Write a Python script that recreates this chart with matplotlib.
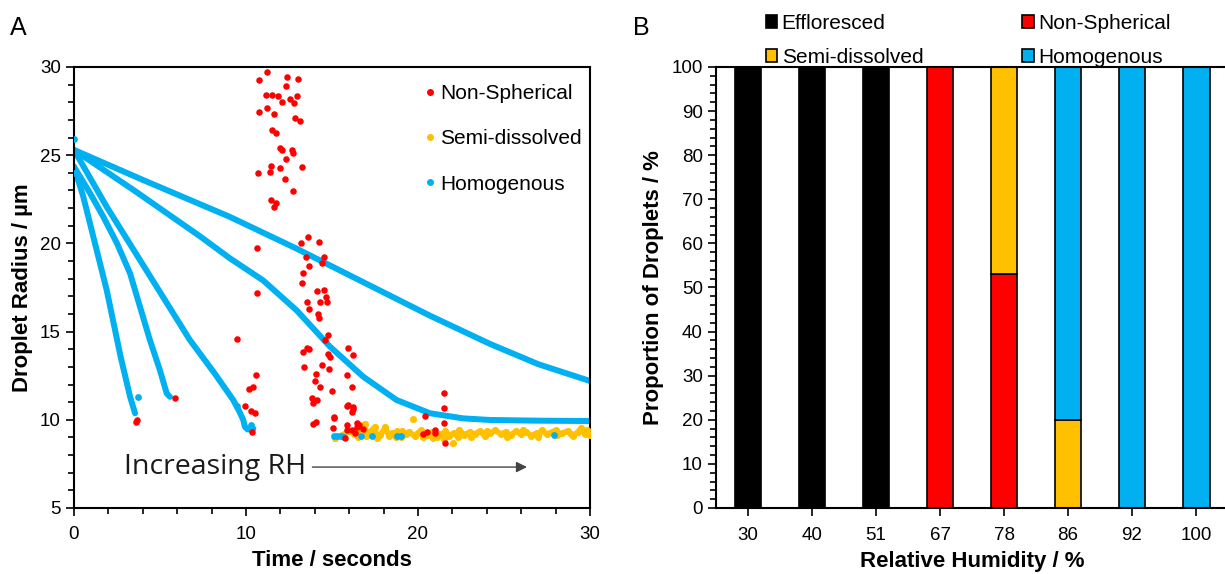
import numpy as np
import matplotlib
matplotlib.use("Agg")
import matplotlib.pyplot as plt
from matplotlib.lines import Line2D
from matplotlib.patches import Patch
from matplotlib.ticker import MultipleLocator

plt.rcParams["font.family"] = ["Liberation Sans", "DejaVu Sans"]

BLUE = "#00B0F0"
RED = "#FF0000"
YELLOW = "#FFC000"

# ---- Panel A: droplet radius vs time ----
c1_t = [0, 0.54, 1.9, 2.71, 3.26, 3.55]
c1_r = [24.35, 22.65, 17.36, 13.58, 11.31, 10.37]

c2_t = [0, 0.9, 1.71, 2.5, 3.26, 4.42, 5.0, 5.39, 5.58]
c2_r = [24.35, 22.9, 21.5, 20.0, 18.3, 14.5, 12.8, 11.5, 11.3]

c3_t = [0, 1.9, 4.32, 6.74, 8.2, 9.26, 9.6, 9.84, 9.94, 10.1, 10.43]
c3_r = [25.3, 22.08, 18.3, 14.52, 12.6, 11.12, 10.5, 9.99, 9.6, 9.45, 9.5]

c4_t = [0, 3.5, 7.33, 9.07, 11.0, 12.95, 14.88, 16.82, 18.76, 20.7, 22.63, 24.19, 27, 30]
c4_r = [25.3, 23.0, 20.4, 19.15, 17.9, 16.2, 14.15, 12.44, 11.12, 10.37, 10.08, 9.99, 9.95, 9.93]

c5_t = [0, 4, 9.07, 12.95, 16.82, 20.7, 24.19, 27, 30]
c5_r = [25.3, 23.6, 21.5, 19.7, 17.8, 15.9, 14.3, 13.15, 12.2]

blue_t = [0, 0, 3.7, 9.5, 10.3, 15.1, 15.3, 15.5, 15.7, 16.7, 17.3, 18.8, 19.0, 27.9]
blue_r = [25.9, 24.0, 11.3, 10.8, 9.7, 9.1, 9.1, 9.1, 9.05, 9.1, 9.1, 9.1, 9.1, 9.15]

red_t = [11.2, 10.76, 12.37, 13.0, 12.33, 11.14, 11.53, 11.84, 12.56, 12.95, 12.11, 12.81,
         11.24, 10.76, 11.65, 12.85, 13.14, 11.53, 11.72, 12.0, 12.07, 12.69, 12.75, 12.31,
         11.45, 13.24, 11.98, 10.72, 11.4, 12.27, 12.71, 11.45, 11.74, 11.65,
         13.59, 13.18, 14.24, 10.66, 13.47, 14.53, 14.44, 13.66, 13.3, 13.24, 14.15, 14.55,
         14.63, 14.3, 14.69, 13.53, 10.62, 13.66, 14.2, 14.26, 14.79, 9.46, 14.59, 13.53,
         13.33, 13.68, 15.95, 16.24, 14.75, 14.88,
         14.4, 14.84, 13.37, 14.07, 15.85, 10.58, 10.43, 10.19, 14.01, 14.3, 16.14, 14.98,
         13.82, 14.11, 13.92, 15.89, 16.24, 9.94, 10.29, 10.52, 14.07, 13.92, 15.13, 15.08,
         15.85, 16.44, 3.64, 3.6, 5.87, 10.33, 15.76,
         15.95, 16.24, 16.14, 15.12, 15.85, 16.44, 16.14, 16.34, 20.41, 20.5, 21.53, 21.53,
         21.53, 21.57, 20.99, 16.6, 16.8, 21.0, 20.3]
red_r = [29.73, 29.26, 29.45, 29.3, 28.92, 28.41, 28.41, 28.37, 28.19, 28.36, 28.03, 27.94,
         27.69, 27.43, 27.34, 27.09, 26.96, 26.42, 26.28, 25.39, 25.29, 25.29, 25.11, 24.77,
         24.39, 24.35, 24.3, 24.01, 24.03, 23.63, 22.97, 22.46, 22.31, 22.08,
         20.38, 20.0, 20.1, 19.76, 19.25, 19.21, 18.87, 18.72, 18.31, 17.74, 17.32, 17.36,
         16.98, 16.7, 16.7, 16.7, 17.17, 16.26, 16.0, 15.75, 14.81, 14.57, 14.52, 14.05,
         13.86, 14.0, 14.05, 13.67, 13.73, 13.54,
         13.1, 12.86, 13.01, 12.59, 12.54, 12.54, 11.84, 11.73, 12.22, 11.88, 11.84, 11.63,
         11.21, 11.12, 10.93, 10.78, 10.6, 10.78, 10.5, 10.4, 9.89, 9.76, 10.12, 9.52,
         9.42, 9.61, 9.99, 9.85, 11.22, 9.33, 8.95,
         10.84, 10.74, 10.46, 10.14, 9.7, 9.83, 9.42, 9.27, 10.22, 9.33, 11.5, 10.65,
         9.8, 8.67, 9.23, 9.7, 9.5, 9.4, 9.2]

yellow_t = [15.2, 15.5, 16.0, 16.3, 16.5, 16.6, 16.9, 17.0, 17.2, 17.5, 17.6, 17.8, 18.0, 18.1,
            18.3, 18.5, 18.7, 18.8, 19.0, 19.1, 19.3, 19.5, 19.8, 20.0, 20.2, 20.3, 20.6,
            20.8, 20.9, 21.1, 21.3, 21.5, 21.6, 21.8, 22.1, 22.3, 22.4, 22.7, 23.0, 23.1, 23.3,
            23.6, 23.9, 24.0, 24.2, 24.5, 24.8, 25.1, 25.2, 25.4, 25.7, 26.0, 26.1, 26.3, 26.6,
            26.9, 27.0, 27.2, 27.5, 27.8, 28.0, 28.1, 28.4, 28.7, 28.9, 29.0, 29.3, 29.5, 29.7,
            29.8, 30.0]
yellow_r = [8.95, 9.1, 9.35, 9.2, 9.05, 9.6, 9.75, 9.1, 9.3, 9.6, 8.95, 9.15, 9.4, 9.6,
            9.1, 9.25, 9.05, 9.35, 9.05, 9.35, 9.2, 9.3, 9.1, 9.25, 9.4, 9.0, 9.15,
            9.3, 8.95, 9.05, 9.2, 8.9, 9.35, 9.1, 9.25, 9.05, 9.4, 9.15, 9.3, 9.0, 9.2,
            9.35, 9.1, 9.35, 9.25, 9.4, 9.2, 9.3, 9.05, 9.15, 9.35, 9.2, 9.4, 9.3, 9.1,
            9.25, 9.05, 9.4, 9.2, 9.3, 9.4, 9.15, 9.25, 9.35, 9.2, 9.1, 9.3, 9.55, 9.2,
            9.4, 9.15]
yellow_out_t = [19.73, 22.05]
yellow_out_r = [10.03, 8.67]

# ---- Panel B: proportion of droplets per RH ----
rh_labels = ["30", "40", "51", "67", "78", "86", "92", "100"]
effloresced = [100, 100, 100, 0, 0, 0, 0, 0]
non_spherical = [0, 0, 0, 100, 53, 0, 0, 0]
semi_dissolved = [0, 0, 0, 0, 47, 20, 0, 0]
homogenous = [0, 0, 0, 0, 0, 80, 100, 100]

fig = plt.figure(figsize=(12.25, 5.74), dpi=100)
axA = fig.add_axes([0.0604, 0.115, 0.4212, 0.7683])
axB = fig.add_axes([0.5845, 0.115, 0.418, 0.7683])

# Panel A
lw = 4.3
for t, r in [(c1_t, c1_r), (c2_t, c2_r), (c3_t, c3_r), (c4_t, c4_r), (c5_t, c5_r)]:
    axA.plot(t, r, color=BLUE, lw=lw, solid_capstyle="round", solid_joinstyle="round", zorder=2)
order = np.argsort(yellow_t)
axA.plot(np.array(yellow_t)[order], np.array(yellow_r)[order], color=YELLOW, lw=4, zorder=3)
axA.scatter(yellow_t + yellow_out_t, yellow_r + yellow_out_r, s=26, color=YELLOW, lw=0, zorder=3)
axA.scatter(blue_t, blue_r, s=24, color=BLUE, lw=0, zorder=3.5)
axA.scatter(red_t, red_r, s=22, color=RED, lw=0, zorder=4)

axA.set_xlim(0, 30)
axA.set_ylim(5, 30)
axA.xaxis.set_major_locator(MultipleLocator(10))
axA.xaxis.set_minor_locator(MultipleLocator(2))
axA.yaxis.set_major_locator(MultipleLocator(5))
axA.yaxis.set_minor_locator(MultipleLocator(1))
axA.tick_params(which="both", direction="out", labelsize=13.5, width=1.2, top=False, right=False)
axA.tick_params(which="major", length=6)
axA.tick_params(which="minor", length=4)
axA.tick_params(axis="x", pad=7)
for s in axA.spines.values():
    s.set_linewidth(1.5)
axA.set_xlabel("Time / seconds", fontsize=16, fontweight="bold", labelpad=5)
axA.set_ylabel("Droplet Radius / \u00b5m", fontsize=16, fontweight="bold", labelpad=5)

handlesA = [Line2D([], [], ls="", marker="o", ms=4, color=c) for c in (RED, YELLOW, BLUE)]
axA.legend(handlesA, ["Non-Spherical", "Semi-dissolved", "Homogenous"], loc="upper left",
           bbox_to_anchor=(0.678, 0.961), frameon=False, fontsize=15, handlelength=0.6,
           handletextpad=0.17, labelspacing=1.26, borderaxespad=0, borderpad=0)

axA.annotate("", xy=(26.5, 7.32), xytext=(13.7, 7.32),
             arrowprops=dict(arrowstyle="-|>", color="#444444", lw=1.0, mutation_scale=16))
axA.text(2.9, 7.32, "Increasing RH", fontsize=20.5, family=["Open Sans", "DejaVu Sans"],
         va="center", ha="left", color="#1a1a1a")

# Panel B
x = np.arange(len(rh_labels))
w = 0.42
bottom = np.zeros(len(x))
for vals, col, lab in [(effloresced, "black", "Effloresced"),
                       (non_spherical, RED, "Non-Spherical"),
                       (semi_dissolved, YELLOW, "Semi-dissolved"),
                       (homogenous, BLUE, "Homogenous")]:
    axB.bar(x, vals, w, bottom=bottom, color=col, edgecolor="black", linewidth=1.2, label=lab)
    bottom += np.array(vals)

axB.set_xlim(-0.5, len(x) - 0.5)
axB.set_ylim(0, 100)
axB.set_xticks(x)
axB.set_xticklabels(rh_labels)
axB.yaxis.set_major_locator(MultipleLocator(10))
axB.yaxis.set_minor_locator(MultipleLocator(2))
axB.tick_params(which="both", direction="out", labelsize=13.5, width=1.2)
axB.tick_params(which="major", length=6)
axB.tick_params(which="minor", length=4)
axB.tick_params(axis="x", pad=8)
for s in axB.spines.values():
    s.set_linewidth(1.5)
axB.set_xlabel("Relative Humidity / %", fontsize=16, fontweight="bold", labelpad=5)
axB.set_ylabel("Proportion of Droplets / %", fontsize=16, fontweight="bold", labelpad=5)

handlesB = [Patch(facecolor=c, edgecolor="black", lw=1.2) for c in ("black", YELLOW, RED, BLUE)]
fig.legend(handlesB, ["Effloresced", "Semi-dissolved", "Non-Spherical", "Homogenous"],
           ncol=2, loc="upper left", bbox_to_anchor=(0.6253, 0.976), frameon=False, fontsize=15,
           handlelength=0.55, handleheight=0.55, handletextpad=0.2, columnspacing=4.75,
           labelspacing=0.72, borderpad=0, borderaxespad=0)

fig.text(0.008, 0.972, "A", fontsize=18, va="top", ha="left")
fig.text(0.517, 0.972, "B", fontsize=18, va="top", ha="left")

fig.savefig("out.png", dpi=100)
